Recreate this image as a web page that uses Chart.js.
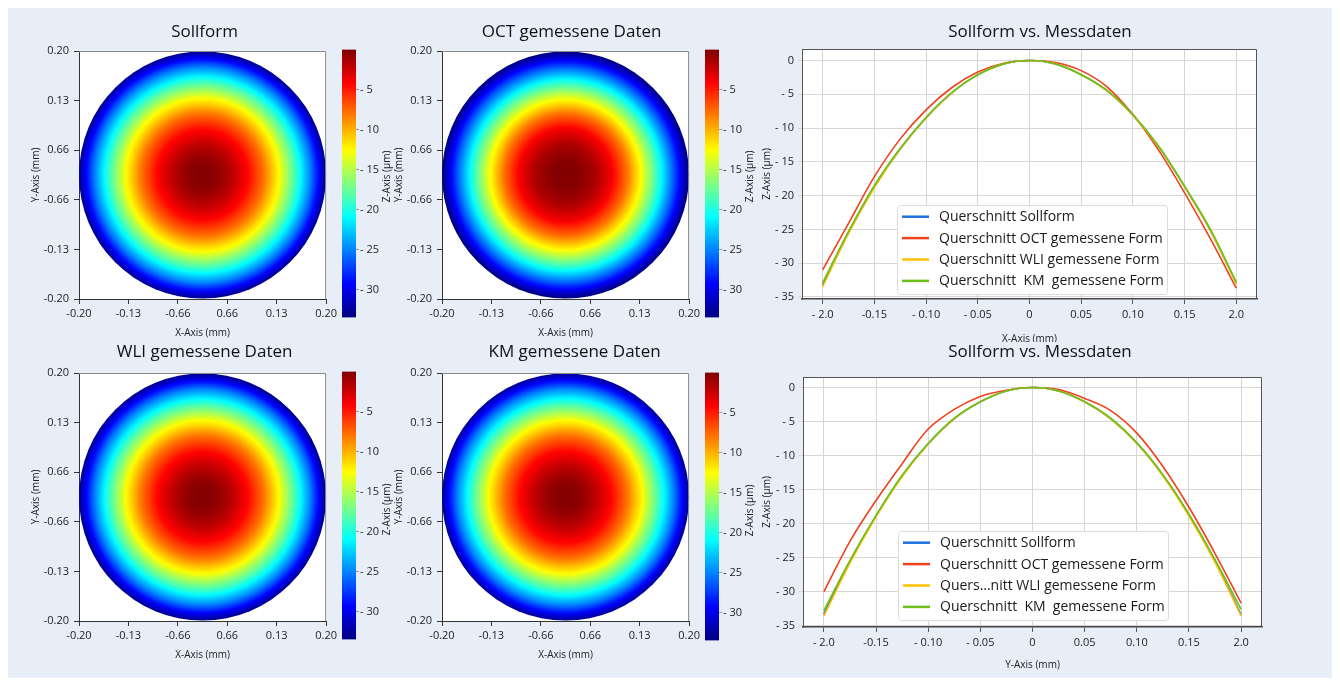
<!DOCTYPE html>
<html>
<head>
<meta charset="utf-8">
<script src="https://cdn.jsdelivr.net/npm/chart.js@4.4.1/dist/chart.umd.min.js"></script>
<style>
  body { margin: 0; background: #fff; width: 1340px; height: 686px; overflow: hidden; position: relative; }
  #panel { position: absolute; left: 8px; top: 8px; width: 1324px; height: 670px; background: #e8eef8; }
  canvas { position: absolute; }
</style>
</head>
<body>
<div id="panel"></div>
<canvas id="heat1" width="330" height="335" style="left:10px;top:10px"></canvas>
<canvas id="heat2" width="330" height="335" style="left:373px;top:10px"></canvas>
<canvas id="heat3" width="330" height="335" style="left:10px;top:332px"></canvas>
<canvas id="heat4" width="330" height="335" style="left:373px;top:332px"></canvas>
<canvas id="cbar1" width="60" height="287" style="left:336px;top:40px"></canvas>
<canvas id="cbar2" width="60" height="287" style="left:699px;top:40px"></canvas>
<canvas id="cbar3" width="60" height="287" style="left:336px;top:362px"></canvas>
<canvas id="cbar4" width="60" height="287" style="left:699px;top:363px"></canvas>
<canvas id="lineX" width="582" height="334" style="left:750px;top:8px"></canvas>
<canvas id="lineY" width="582" height="348" style="left:750px;top:330px"></canvas>
<script>
// cross-section positions (mm)
var xPos = [-0.2, -0.175, -0.15, -0.125, -0.1, -0.075, -0.05, -0.025, 0, 0.025, 0.05, 0.075, 0.1, 0.125, 0.15, 0.175, 0.2];

// X cross-section (µm)
var sollX = [-33.2, -25.5, -18.7, -13.1, -8.5, -4.8, -2.1, -0.5, 0, -0.5, -2.1, -4.5, -8.1, -12.8, -18.7, -25.2, -33.0];
var octX  = [-31.0, -24.1, -17.2, -11.6, -7.3, -4.0, -1.7, -0.4, 0, -0.3, -1.5, -3.9, -8.0, -13.3, -19.6, -26.4, -33.7];
var wliX  = [-33.5, -25.6, -18.8, -13.1, -8.5, -4.8, -2.1, -0.5, 0, -0.5, -2.1, -4.5, -8.1, -12.8, -18.7, -25.2, -33.1];
var kmX   = [-32.9, -25.3, -18.5, -13.0, -8.4, -4.7, -2.1, -0.5, 0, -0.5, -2.1, -4.4, -8.0, -12.7, -18.6, -25.0, -32.8];

// Y cross-section (µm)
var sollY = [-33.3, -25.6, -18.9, -13.0, -8.3, -4.6, -2.1, -0.5, 0, -0.5, -2.1, -4.6, -8.2, -12.9, -18.7, -25.5, -33.4];
var octY  = [-30.0, -22.6, -16.6, -11.2, -6.1, -3.2, -1.3, -0.4, 0, -0.3, -1.6, -3.4, -6.7, -11.6, -17.6, -24.4, -31.7];
var wliY  = [-33.6, -25.8, -19.0, -13.1, -8.3, -4.6, -2.1, -0.5, 0, -0.5, -2.1, -4.6, -8.2, -13.0, -18.9, -25.7, -33.6];
var kmY   = [-32.8, -25.4, -18.8, -12.9, -8.2, -4.5, -2.1, -0.5, 0, -0.5, -2.1, -4.5, -8.1, -12.8, -18.6, -25.3, -32.6];

var namesX = ['Querschnitt Sollform', 'Querschnitt OCT gemessene Form', 'Querschnitt WLI gemessene Form', 'Querschnitt  KM  gemessene Form'];
var namesY = ['Querschnitt Sollform', 'Querschnitt OCT gemessene Form', 'Quers\u2026nitt WLI gemessene Form', 'Querschnitt  KM  gemessene Form'];
var colors = ['#1f6fe0', '#f0401e', '#ffc000', '#6cc01c'];

var lineXTicks = [-0.2, -0.15, -0.1, -0.05, 0, 0.05, 0.1, 0.15, 0.2];
var lineXLabels = ['- 2.0', '-0.15', '- 0.10', '- 0.05', '0', '0.05', '0.10', '0.15', '2.0'];
var lineYTicks = [0, -5, -10, -15, -20, -25, -30, -35];
var lineYLabels = ['0', '- 5', '- 10', '- 15', '- 20', '- 25', '- 30', '- 35'];

var heatTicks = [-0.2, -0.12, -0.04, 0.04, 0.12, 0.2];
var heatLabels = ['-0.20', '-0.13', '-0.66', '0.66', '0.13', '0.20'];
var heatTitles = ['Sollform', 'OCT gemessene Daten', 'WLI gemessene Daten', 'KM gemessene Daten'];

var cbarTicks = [-5, -10, -15, -20, -25, -30];
var cbarLabels = ['- 5', '- 10', '- 15', '- 20', '- 25', '- 30'];
var zMin = -33.5, zMax = 0;

var sans = "'Open Sans', sans-serif";
var tickFont = { family: sans, size: 11 };
var axisFont = { family: sans, size: 10 };

Chart.defaults.font.family = sans;
Chart.defaults.color = '#222';

function jet(t) {
  t = Math.max(0, Math.min(1, t));
  var c = function (v) { return Math.round(255 * Math.max(0, Math.min(1, v))); };
  return 'rgb(' + c(1.5 - Math.abs(4 * t - 3)) + ',' + c(1.5 - Math.abs(4 * t - 2)) + ',' + c(1.5 - Math.abs(4 * t - 1)) + ')';
}

function fixTicks(vals) {
  return function (s) { s.ticks = vals.map(function (v) { return { value: v }; }); };
}

// white plot background + frame lines
Chart.register({
  id: 'frame',
  beforeDraw: function (chart, args, o) {
    if (!o.on) return;
    var a = chart.chartArea, ctx = chart.ctx;
    ctx.save();
    ctx.fillStyle = '#fff';
    ctx.fillRect(a.left, a.top, a.right - a.left, a.bottom - a.top);
    ctx.restore();
  },
  afterDraw: function (chart, args, o) {
    if (!o.on) return;
    var a = chart.chartArea, ctx = chart.ctx;
    ctx.save();
    ctx.strokeStyle = o.color;
    ctx.lineWidth = o.width || 1;
    ctx.beginPath();
    ctx.moveTo(a.left, a.top + 0.5);
    ctx.lineTo(a.right - 0.5, a.top + 0.5);
    ctx.lineTo(a.right - 0.5, a.bottom);
    ctx.stroke();
    ctx.restore();
  }
});

// radial colour field of a heat panel, from the ring data
Chart.register({
  id: 'heatDisc',
  beforeDatasetsDraw: function (chart, args, o) {
    if (!o.on) return;
    var pts = chart.data.datasets[0].data;
    var xs = chart.scales.x, ys = chart.scales.y, ctx = chart.ctx;
    var cx = xs.getPixelForValue(0), cy = ys.getPixelForValue(0);
    var rMax = pts[pts.length - 1].x;
    var R = xs.getPixelForValue(rMax) - cx;
    var g = ctx.createRadialGradient(cx, cy, 0, cx, cy, R);
    var steps = 64;
    for (var k = 0; k <= steps; k++) {
      var r = rMax * k / steps, z = pts[pts.length - 1].z;
      for (var i = 1; i < pts.length; i++) {
        if (r <= pts[i].x) {
          var f = (r - pts[i - 1].x) / (pts[i].x - pts[i - 1].x);
          z = pts[i - 1].z + f * (pts[i].z - pts[i - 1].z);
          break;
        }
      }
      g.addColorStop(k / steps, jet((z - zMin) / (zMax - zMin)));
    }
    ctx.save();
    ctx.fillStyle = g;
    ctx.beginPath();
    ctx.arc(cx, cy, R, 0, Math.PI * 2);
    ctx.fill();
    ctx.restore();
  }
});

Chart.register({
  id: 'panelTitle',
  afterDraw: function (chart, args, o) {
    if (!o.text) return;
    var a = chart.chartArea, ctx = chart.ctx;
    ctx.save();
    ctx.font = (o.size || 17) + 'px ' + sans;
    ctx.fillStyle = '#111';
    ctx.textAlign = 'center';
    ctx.textBaseline = 'middle';
    ctx.fillText(o.text, (a.left + a.right) / 2 + o.dx, o.y);
    ctx.restore();
  }
});

// rotated title next to a colour bar
Chart.register({
  id: 'sideTitle',
  afterDraw: function (chart, args, o) {
    if (!o.text) return;
    var a = chart.chartArea, ctx = chart.ctx;
    ctx.save();
    ctx.translate(a.right + o.dx, (a.top + a.bottom) / 2 + o.dy);
    ctx.rotate(-Math.PI / 2);
    ctx.font = axisFont.size + 'px ' + sans;
    ctx.fillStyle = '#222';
    ctx.textAlign = 'center';
    ctx.textBaseline = 'middle';
    ctx.fillText(o.text, 0, 0);
    ctx.restore();
  }
});

// legend box inside the plot
Chart.register({
  id: 'boxLegend',
  afterDraw: function (chart, args, o) {
    if (!o.on) return;
    var a = chart.chartArea, ctx = chart.ctx;
    var bx = a.left + o.dx, by = a.top + o.dy;
    ctx.save();
    ctx.fillStyle = 'rgba(255,255,255,0.96)';
    ctx.strokeStyle = '#dcdcdc';
    ctx.lineWidth = 1;
    ctx.beginPath();
    ctx.roundRect(bx + 0.5, by + 0.5, o.w, o.h, 3);
    ctx.fill();
    ctx.stroke();
    ctx.font = '14px ' + sans;
    ctx.textBaseline = 'middle';
    chart.data.datasets.forEach(function (d, i) {
      var y = by + o.first + i * o.row;
      ctx.strokeStyle = d.borderColor;
      ctx.lineWidth = 2.5;
      ctx.beginPath();
      ctx.moveTo(bx + 5, y);
      ctx.lineTo(bx + 32, y);
      ctx.stroke();
      ctx.fillStyle = '#1a1a1a';
      ctx.fillText(d.label, bx + 42, y + 0.5);
    });
    ctx.restore();
  }
});

function heatChart(id, idx, ringZ, dx, titleY) {
  var ringR = xPos.slice(8);
  new Chart(document.getElementById(id), {
    type: 'scatter',
    data: {
      datasets: [{
        data: ringR.map(function (r, i) { return { x: r, y: 0, z: ringZ[i] }; }),
        pointRadius: 0
      }]
    },
    options: {
      responsive: false,
      animation: false,
      layout: { padding: { top: 41, right: 13, left: 0, bottom: 0 } },
      plugins: {
        legend: { display: false },
        tooltip: { enabled: false },
        frame: { on: true, color: '#8a8a8a' },
        heatDisc: { on: true },
        panelTitle: { text: heatTitles[idx], dx: dx, y: titleY }
      },
      scales: {
        x: {
          type: 'linear', min: -0.2, max: 0.2,
          afterBuildTicks: fixTicks(heatTicks),
          afterFit: function (s) { s.height = 46; },
          grid: { drawOnChartArea: false, tickLength: 5, color: '#333' },
          border: { color: '#333' },
          ticks: { callback: function (v, i) { return heatLabels[i]; }, padding: 3, maxRotation: 0, autoSkip: false, font: tickFont, color: '#222' },
          title: { display: true, text: 'X-Axis (mm)', font: axisFont, color: '#222', padding: { top: 0, bottom: 6 } }
        },
        y: {
          type: 'linear', min: -0.2, max: 0.2,
          afterBuildTicks: fixTicks(heatTicks),
          afterFit: function (s) { s.width = 69; },
          grid: { drawOnChartArea: false, tickLength: 5, color: '#333' },
          border: { color: '#333' },
          ticks: { callback: function (v, i) { return heatLabels[i]; }, padding: 5, autoSkip: false, font: tickFont, color: '#222' },
          title: { display: true, text: 'Y-Axis (mm)', font: axisFont, color: '#222', padding: { top: 20, bottom: 0 } }
        }
      }
    }
  });
}

function cbarChart(id, dy) {
  new Chart(document.getElementById(id), {
    type: 'bar',
    data: {
      labels: [''],
      datasets: [{
        data: [[zMin, zMax]],
        borderWidth: 0,
        barPercentage: 1,
        categoryPercentage: 1,
        backgroundColor: function (c) {
          var a = c.chart.chartArea;
          if (!a) return '#888';
          var g = c.chart.ctx.createLinearGradient(0, a.bottom, 0, a.top);
          for (var k = 0; k <= 32; k++) g.addColorStop(k / 32, jet(k / 32));
          return g;
        }
      }]
    },
    options: {
      responsive: false,
      animation: false,
      layout: { padding: { left: 6, top: 9.5, bottom: 9.5, right: 0 } },
      plugins: {
        legend: { display: false },
        tooltip: { enabled: false },
        sideTitle: { text: 'Z-Axis (\u00b5m)', dx: 31, dy: dy }
      },
      scales: {
        x: { display: false },
        y: {
          position: 'right', min: zMin, max: zMax,
          afterBuildTicks: fixTicks(cbarTicks),
          afterFit: function (s) { s.width = 40; },
          grid: { drawOnChartArea: false, tickLength: 3, color: '#999' },
          border: { display: false },
          ticks: { callback: function (v, i) { return cbarLabels[i]; }, padding: 1, autoSkip: false, font: tickFont, color: '#222' }
        }
      }
    }
  });
}

function lineChart(id, series, names, lay) {
  new Chart(document.getElementById(id), {
    type: 'line',
    data: {
      datasets: series.map(function (s, i) {
        return {
          label: names[i],
          data: xPos.map(function (x, k) { return { x: x, y: s[k] }; }),
          borderColor: colors[i],
          borderWidth: 1.6,
          pointRadius: 0,
          tension: 0.35,
          fill: false,
          order: series.length - i
        };
      })
    },
    options: {
      responsive: false,
      animation: false,
      layout: { padding: { top: lay.top, right: lay.right, left: 0, bottom: 0 } },
      plugins: {
        legend: { display: false },
        tooltip: { enabled: false },
        frame: { on: true, color: '#555' },
        panelTitle: { text: 'Sollform vs. Messdaten', dx: lay.titleDx, y: lay.titleY },
        boxLegend: { on: true, dx: 95, dy: lay.legDy, w: 270, h: 89, first: 11.7, row: 21.4 }
      },
      scales: {
        x: {
          type: 'linear', min: -0.22, max: 0.22,
          afterBuildTicks: fixTicks(lineXTicks),
          afterFit: function (s) { s.height = lay.xh; },
          grid: { color: '#d6d6d6', tickLength: 5, tickColor: '#555' },
          border: { color: '#444', width: 1.5 },
          ticks: { callback: function (v, i) { return lineXLabels[i]; }, padding: 4, maxRotation: 0, autoSkip: false, font: tickFont, color: '#222' },
          title: { display: true, text: lay.xTitle, font: axisFont, color: '#222', padding: { top: 0, bottom: lay.xtPad } }
        },
        y: {
          type: 'linear', min: lay.ymin, max: lay.ymax,
          afterBuildTicks: fixTicks(lineYTicks),
          afterFit: function (s) { s.width = lay.yw; },
          grid: { color: '#d6d6d6', tickLength: 4 },
          border: { color: '#555' },
          ticks: { callback: function (v, i) { return lineYLabels[i]; }, padding: 4, autoSkip: false, font: tickFont, color: '#222' },
          title: { display: true, text: 'Z-Axis (\u00b5m)', font: axisFont, color: '#222', padding: { top: lay.ytPad, bottom: 0 } }
        }
      }
    }
  });
}

heatChart('heat1', 0, sollX.slice(8), 2, 22.3);
heatChart('heat2', 1, octX.slice(8), 6, 22.3);
heatChart('heat3', 2, wliX.slice(8), 2, 20.3);
heatChart('heat4', 3, kmX.slice(8), 9, 20.3);

cbarChart('cbar1', -7);
cbarChart('cbar2', -7);
cbarChart('cbar3', 4);
cbarChart('cbar4', 4);

lineChart('lineX', [sollX, octX, wliX, kmX], namesX,
  { top: 41, right: 75, yw: 52, xh: 43, titleDx: 10.5, titleY: 23.7, legDy: 156, ymin: -35.3, ymax: 1.7, xTitle: 'X-Axis (mm)', xtPad: -3, ytPad: 10.7 });
lineChart('lineY', [sollY, octY, wliY, kmY], namesY,
  { top: 47, right: 70, yw: 53, xh: 51, titleDx: 7.5, titleY: 22.3, legDy: 154, ymin: -35.2, ymax: 1.55, xTitle: 'Y-Axis (mm)', xtPad: 7, ytPad: 11.3 });
</script>
</body>
</html>
